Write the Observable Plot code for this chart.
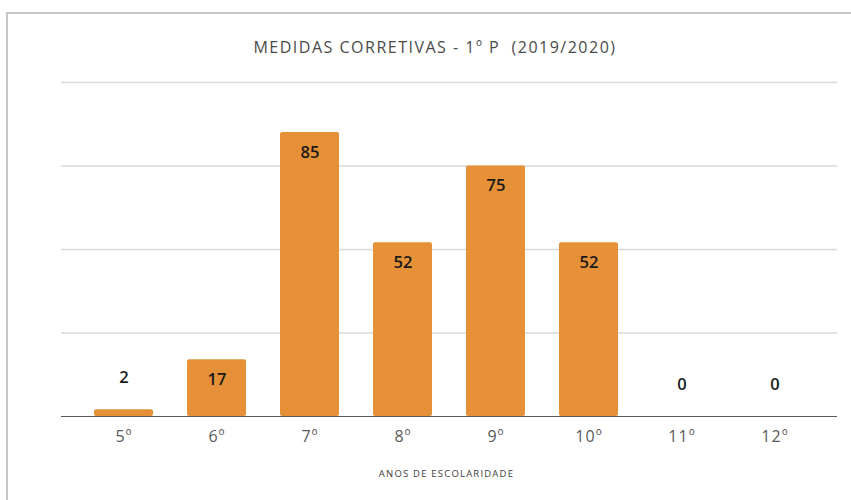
<!DOCTYPE html>
<html>
<head>
<meta charset="utf-8">
<script src="https://cdn.jsdelivr.net/npm/d3@7"></script>
<script src="https://cdn.jsdelivr.net/npm/@observablehq/plot@0.6"></script>
<style>
  html, body { margin: 0; padding: 0; background: #fff; }
  #wrap { position: relative; width: 851px; height: 500px; overflow: hidden; font-family: "Open Sans", "Noto Sans", sans-serif; }
  #frame { position: absolute; left: 6px; top: 12px; width: 900px; height: 600px; border-left: 2px solid #c6c6c6; border-top: 2px solid #c6c6c6; }
  #title { position: absolute; left: 0; width: 870px; top: 36px; text-align: center; font-size: 16px; color: #4a4a4a; letter-spacing: 1.5px; white-space: pre; }
  #xlabel { position: absolute; left: 0; width: 893px; top: 467px; text-align: center; font-size: 9.5px; color: #404040; letter-spacing: 1.2px; white-space: pre; }
  #chart { position: absolute; left: 0; top: 0; }
  #chart g[aria-label="x-axis tick label"] text { letter-spacing: 1px; }
</style>
</head>
<body>
<div id="wrap">
  <div id="frame"></div>
  <div id="chart"></div>
  <div id="title"></div>
  <div id="xlabel"></div>
</div>
<script>
const title = "MEDIDAS CORRETIVAS - 1º P  (2019/2020)";
const categories = ["5º", "6º", "7º", "8º", "9º", "10º", "11º", "12º"];
const values = [2, 17, 85, 52, 75, 52, 0, 0];
const gridTicks = [25, 50, 75, 100];
const xLabel = "ANOS DE ESCOLARIDADE";

document.getElementById("title").textContent = title;
document.getElementById("xlabel").textContent = xLabel;

const data = categories.map((c, i) => ({cat: c, v: values[i]}));
const font = "'Open Sans', 'Noto Sans', sans-serif";

const chart = Plot.plot({
  width: 851,
  height: 500,
  marginTop: 82,
  marginBottom: 84,
  marginLeft: 61,
  marginRight: 14,
  style: {fontFamily: font, background: "transparent"},
  x: {domain: categories, paddingInner: 0.368, paddingOuter: 0.342, label: null},
  y: {domain: [0, 100], axis: null},
  marks: [
    Plot.ruleY(gridTicks, {stroke: "#d9d9d9", strokeWidth: 1.5}),
    Plot.barY(data, {x: "cat", y: "v", fill: "#E69138", rx: 2}),
    Plot.ruleY([0], {stroke: "#595959", strokeWidth: 1.2}),
    Plot.text(data.filter(d => d.v >= 10), {x: "cat", y: "v", text: d => String(d.v), dy: 20, fontSize: 16.5, fontWeight: 600, fill: "#1a1a1a"}),
    Plot.text(data.filter(d => d.v < 10), {x: "cat", y: "v", text: d => String(d.v), dy: -32, fontSize: 16.5, fontWeight: 600, fill: "#1a1a1a"}),
    Plot.axisX({tickSize: 0, tickPadding: 14, fontSize: 16, color: "#595959", label: null})
  ]
});
document.getElementById("chart").appendChild(chart);
</script>
</body>
</html>
